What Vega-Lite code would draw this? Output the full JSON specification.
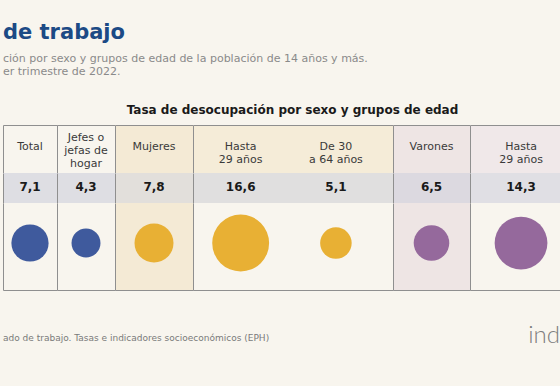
{
 "$schema": "https://vega.github.io/schema/vega-lite/v6.json",
 "background": "#f8f5ee",
 "padding": {"left": 3, "top": 22, "right": 0, "bottom": 0},
 "title": {"text": "\u00a0de trabajo", "subtitle": ["ción por sexo y grupos de edad de la población de 14 años y más.", "er trimestre de 2022."], "anchor": "start", "offset": 27, "font": "DejaVu Sans", "fontSize": 21, "fontWeight": "bold", "color": "#1c4a85", "subtitleFont": "DejaVu Sans", "subtitleFontSize": 11, "subtitleColor": "#8a8a8a", "subtitleLineHeight": 13, "subtitlePadding": 10},
 "datasets": {
  "tasas": [
   {"panel": "Total", "columna": "Total", "etiqueta": "Total", "tasa": 7.1, "grupo": "Total"},
   {"panel": "Jefes", "columna": "Jefes o jefas de hogar", "etiqueta": "Jefes o\njefas de\nhogar", "tasa": 4.3, "grupo": "Total"},
   {"panel": "Mujeres", "columna": "Mujeres", "etiqueta": "Mujeres", "tasa": 7.8, "grupo": "Mujeres"},
   {"panel": "MujeresEdad", "columna": "Mujeres hasta 29 años", "etiqueta": "Hasta\n29 años", "tasa": 16.6, "grupo": "Mujeres"},
   {"panel": "MujeresEdad", "columna": "Mujeres de 30 a 64 años", "etiqueta": "De 30\na 64 años", "tasa": 5.1, "grupo": "Mujeres"},
   {"panel": "Varones", "columna": "Varones", "etiqueta": "Varones", "tasa": 6.5, "grupo": "Varones"},
   {"panel": "VaronesEdad", "columna": "Varones hasta 29 años", "etiqueta": "Hasta\n29 años", "tasa": 14.3, "grupo": "Varones"}
  ],
  "pie": [
   {"tipo": "fuente", "texto": "ado de trabajo. Tasas e indicadores socioeconómicos (EPH)"},
   {"tipo": "logo", "texto": "ind"}
  ]
 },
 "spacing": 0,
 "vconcat": [
  {
   "title": {"text": "Tasa de desocupación por sexo y grupos de edad", "anchor": "middle", "dx": 11, "offset": 8, "font": "DejaVu Sans", "fontSize": 12, "fontWeight": "bold", "color": "#1a1a1a"},
   "spacing": 0,
   "vconcat": [
    {"spacing": 0, "bounds": "flush", "hconcat": [
     {"width": 54, "height": 48, "data": {"name": "tasas"}, "transform": [{"filter": "datum.panel === 'Total'"}],
      "mark": {"type": "text", "baseline": "top", "lineBreak": "\n", "font": "DejaVu Sans", "fontSize": 11, "lineHeight": 13, "color": "#3a3a3a"},
      "encoding": {"x": {"field": "columna", "type": "nominal", "sort": null, "axis": {"orient": "top", "title": null}},
       "y": {"field": "panel", "type": "nominal", "scale": {"align": 0.33}, "axis": {"orient": "left", "title": null}},
       "text": {"field": "etiqueta"}}},
     {"width": 58, "height": 48, "data": {"name": "tasas"}, "transform": [{"filter": "datum.panel === 'Jefes'"}],
      "mark": {"type": "text", "baseline": "top", "lineBreak": "\n", "font": "DejaVu Sans", "fontSize": 11, "lineHeight": 13, "color": "#3a3a3a"},
      "encoding": {"x": {"field": "columna", "type": "nominal", "sort": null, "axis": {"orient": "top", "title": null}},
       "y": {"field": "panel", "type": "nominal", "scale": {"align": 0.15}, "axis": {"orient": "left", "title": null}},
       "text": {"field": "etiqueta"}}},
     {"width": 78, "height": 48, "view": {"fill": "#f4ead5"}, "data": {"name": "tasas"}, "transform": [{"filter": "datum.panel === 'Mujeres'"}],
      "mark": {"type": "text", "baseline": "top", "lineBreak": "\n", "font": "DejaVu Sans", "fontSize": 11, "lineHeight": 13, "color": "#3a3a3a"},
      "encoding": {"x": {"field": "columna", "type": "nominal", "sort": null, "axis": {"orient": "top", "title": null}},
       "y": {"field": "panel", "type": "nominal", "scale": {"align": 0.33}, "axis": {"orient": "left", "title": null}},
       "text": {"field": "etiqueta"}}},
     {"width": 200, "height": 48, "view": {"fill": "#f5ecd8"}, "data": {"name": "tasas"}, "transform": [{"filter": "datum.panel === 'MujeresEdad'"}],
      "mark": {"type": "text", "baseline": "top", "lineBreak": "\n", "font": "DejaVu Sans", "fontSize": 11, "lineHeight": 13, "color": "#3a3a3a"},
      "encoding": {"x": {"field": "columna", "type": "nominal", "sort": null, "scale": {"padding": 0.55, "align": 0.455}, "axis": {"orient": "top", "title": null}},
       "y": {"field": "panel", "type": "nominal", "scale": {"align": 0.33}, "axis": {"orient": "left", "title": null}},
       "text": {"field": "etiqueta"}}},
     {"width": 77, "height": 48, "view": {"fill": "#eee5e4"}, "data": {"name": "tasas"}, "transform": [{"filter": "datum.panel === 'Varones'"}],
      "mark": {"type": "text", "baseline": "top", "lineBreak": "\n", "font": "DejaVu Sans", "fontSize": 11, "lineHeight": 13, "color": "#3a3a3a"},
      "encoding": {"x": {"field": "columna", "type": "nominal", "sort": null, "axis": {"orient": "top", "title": null}},
       "y": {"field": "panel", "type": "nominal", "scale": {"align": 0.33}, "axis": {"orient": "left", "title": null}},
       "text": {"field": "etiqueta"}}},
     {"width": 90, "height": 48, "view": {"fill": "#f0e8e9"}, "data": {"name": "tasas"}, "transform": [{"filter": "datum.panel === 'VaronesEdad'"}],
      "mark": {"type": "text", "baseline": "top", "lineBreak": "\n", "font": "DejaVu Sans", "fontSize": 11, "lineHeight": 13, "color": "#3a3a3a"},
      "encoding": {"x": {"field": "columna", "type": "nominal", "sort": null, "scale": {"align": 0.567}, "axis": {"orient": "top", "title": null}},
       "y": {"field": "panel", "type": "nominal", "scale": {"align": 0.33}, "axis": {"orient": "left", "title": null}},
       "text": {"field": "etiqueta"}}}
    ]},
    {"spacing": 0, "bounds": "flush", "hconcat": [
     {"width": 54, "height": 30, "view": {"fill": "#dedee3"}, "data": {"name": "tasas"}, "transform": [{"filter": "datum.panel === 'Total'"}],
      "mark": {"type": "text", "font": "DejaVu Sans", "fontSize": 12, "fontWeight": "bold", "color": "#1a1a1a"},
      "encoding": {"x": {"field": "columna", "type": "nominal", "sort": null, "axis": null},
       "y": {"field": "panel", "type": "nominal", "scale": {"align": 0.48}, "axis": {"orient": "left", "title": null}},
       "text": {"field": "tasa", "type": "quantitative", "format": ".1f"}}},
     {"width": 58, "height": 30, "view": {"fill": "#dedee3"}, "data": {"name": "tasas"}, "transform": [{"filter": "datum.panel === 'Jefes'"}],
      "mark": {"type": "text", "font": "DejaVu Sans", "fontSize": 12, "fontWeight": "bold", "color": "#1a1a1a"},
      "encoding": {"x": {"field": "columna", "type": "nominal", "sort": null, "axis": null},
       "y": {"field": "panel", "type": "nominal", "scale": {"align": 0.48}, "axis": {"orient": "left", "title": null}},
       "text": {"field": "tasa", "type": "quantitative", "format": ".1f"}}},
     {"width": 78, "height": 30, "view": {"fill": "#e2dfdb"}, "data": {"name": "tasas"}, "transform": [{"filter": "datum.panel === 'Mujeres'"}],
      "mark": {"type": "text", "font": "DejaVu Sans", "fontSize": 12, "fontWeight": "bold", "color": "#1a1a1a"},
      "encoding": {"x": {"field": "columna", "type": "nominal", "sort": null, "axis": null},
       "y": {"field": "panel", "type": "nominal", "scale": {"align": 0.48}, "axis": {"orient": "left", "title": null}},
       "text": {"field": "tasa", "type": "quantitative", "format": ".1f"}}},
     {"width": 200, "height": 30, "view": {"fill": "#e0dfdf"}, "data": {"name": "tasas"}, "transform": [{"filter": "datum.panel === 'MujeresEdad'"}],
      "mark": {"type": "text", "font": "DejaVu Sans", "fontSize": 12, "fontWeight": "bold", "color": "#1a1a1a"},
      "encoding": {"x": {"field": "columna", "type": "nominal", "sort": null, "scale": {"padding": 0.55, "align": 0.455}, "axis": null},
       "y": {"field": "panel", "type": "nominal", "scale": {"align": 0.48}, "axis": {"orient": "left", "title": null}},
       "text": {"field": "tasa", "type": "quantitative", "format": ".1f"}}},
     {"width": 77, "height": 30, "view": {"fill": "#dcd9e0"}, "data": {"name": "tasas"}, "transform": [{"filter": "datum.panel === 'Varones'"}],
      "mark": {"type": "text", "font": "DejaVu Sans", "fontSize": 12, "fontWeight": "bold", "color": "#1a1a1a"},
      "encoding": {"x": {"field": "columna", "type": "nominal", "sort": null, "axis": null},
       "y": {"field": "panel", "type": "nominal", "scale": {"align": 0.48}, "axis": {"orient": "left", "title": null}},
       "text": {"field": "tasa", "type": "quantitative", "format": ".1f"}}},
     {"width": 90, "height": 30, "view": {"fill": "#e0dfe4"}, "data": {"name": "tasas"}, "transform": [{"filter": "datum.panel === 'VaronesEdad'"}],
      "mark": {"type": "text", "font": "DejaVu Sans", "fontSize": 12, "fontWeight": "bold", "color": "#1a1a1a"},
      "encoding": {"x": {"field": "columna", "type": "nominal", "sort": null, "scale": {"align": 0.567}, "axis": null},
       "y": {"field": "panel", "type": "nominal", "scale": {"align": 0.48}, "axis": {"orient": "left", "title": null}},
       "text": {"field": "tasa", "type": "quantitative", "format": ".1f"}}}
    ]},
    {"spacing": 0, "bounds": "flush", "hconcat": [
     {"width": 54, "height": 87, "data": {"name": "tasas"}, "transform": [{"filter": "datum.panel === 'Total'"}],
      "mark": {"type": "circle", "opacity": 1},
      "encoding": {"x": {"field": "columna", "type": "nominal", "sort": null, "axis": {"orient": "bottom", "title": null}},
       "y": {"field": "panel", "type": "nominal", "scale": {"align": 0.46}, "axis": {"orient": "left", "title": null}},
       "size": {"field": "tasa", "type": "quantitative", "scale": {"domain": [0, 20], "range": [0, 3896]}, "legend": null},
       "color": {"field": "grupo", "type": "nominal", "scale": {"domain": ["Total", "Mujeres", "Varones"], "range": ["#3f5a9d", "#e8b034", "#95699c"]}, "legend": null}}},
     {"width": 58, "height": 87, "data": {"name": "tasas"}, "transform": [{"filter": "datum.panel === 'Jefes'"}],
      "mark": {"type": "circle", "opacity": 1},
      "encoding": {"x": {"field": "columna", "type": "nominal", "sort": null, "axis": {"orient": "bottom", "title": null}},
       "y": {"field": "panel", "type": "nominal", "scale": {"align": 0.46}, "axis": {"orient": "left", "title": null}},
       "size": {"field": "tasa", "type": "quantitative", "scale": {"domain": [0, 20], "range": [0, 3896]}, "legend": null},
       "color": {"field": "grupo", "type": "nominal", "scale": {"domain": ["Total", "Mujeres", "Varones"], "range": ["#3f5a9d", "#e8b034", "#95699c"]}, "legend": null}}},
     {"width": 78, "height": 87, "view": {"fill": "#f4ead5"}, "data": {"name": "tasas"}, "transform": [{"filter": "datum.panel === 'Mujeres'"}],
      "mark": {"type": "circle", "opacity": 1},
      "encoding": {"x": {"field": "columna", "type": "nominal", "sort": null, "axis": {"orient": "bottom", "title": null}},
       "y": {"field": "panel", "type": "nominal", "scale": {"align": 0.46}, "axis": {"orient": "left", "title": null}},
       "size": {"field": "tasa", "type": "quantitative", "scale": {"domain": [0, 20], "range": [0, 3896]}, "legend": null},
       "color": {"field": "grupo", "type": "nominal", "scale": {"domain": ["Total", "Mujeres", "Varones"], "range": ["#3f5a9d", "#e8b034", "#95699c"]}, "legend": null}}},
     {"width": 200, "height": 87, "data": {"name": "tasas"}, "transform": [{"filter": "datum.panel === 'MujeresEdad'"}],
      "mark": {"type": "circle", "opacity": 1},
      "encoding": {"x": {"field": "columna", "type": "nominal", "sort": null, "scale": {"padding": 0.55, "align": 0.455}, "axis": {"orient": "bottom", "title": null}},
       "y": {"field": "panel", "type": "nominal", "scale": {"align": 0.46}, "axis": {"orient": "left", "title": null}},
       "size": {"field": "tasa", "type": "quantitative", "scale": {"domain": [0, 20], "range": [0, 3896]}, "legend": null},
       "color": {"field": "grupo", "type": "nominal", "scale": {"domain": ["Total", "Mujeres", "Varones"], "range": ["#3f5a9d", "#e8b034", "#95699c"]}, "legend": null}}},
     {"width": 77, "height": 87, "view": {"fill": "#eee5e4"}, "data": {"name": "tasas"}, "transform": [{"filter": "datum.panel === 'Varones'"}],
      "mark": {"type": "circle", "opacity": 1},
      "encoding": {"x": {"field": "columna", "type": "nominal", "sort": null, "axis": {"orient": "bottom", "title": null}},
       "y": {"field": "panel", "type": "nominal", "scale": {"align": 0.46}, "axis": {"orient": "left", "title": null}},
       "size": {"field": "tasa", "type": "quantitative", "scale": {"domain": [0, 20], "range": [0, 3896]}, "legend": null},
       "color": {"field": "grupo", "type": "nominal", "scale": {"domain": ["Total", "Mujeres", "Varones"], "range": ["#3f5a9d", "#e8b034", "#95699c"]}, "legend": null}}},
     {"width": 90, "height": 87, "data": {"name": "tasas"}, "transform": [{"filter": "datum.panel === 'VaronesEdad'"}],
      "mark": {"type": "circle", "opacity": 1},
      "encoding": {"x": {"field": "columna", "type": "nominal", "sort": null, "scale": {"align": 0.567}, "axis": {"orient": "bottom", "title": null}},
       "y": {"field": "panel", "type": "nominal", "scale": {"align": 0.46}, "axis": {"orient": "left", "title": null}},
       "size": {"field": "tasa", "type": "quantitative", "scale": {"domain": [0, 20], "range": [0, 3896]}, "legend": null},
       "color": {"field": "grupo", "type": "nominal", "scale": {"domain": ["Total", "Mujeres", "Varones"], "range": ["#3f5a9d", "#e8b034", "#95699c"]}, "legend": null}}}
    ]}
   ]
  },
  {"width": 557, "height": 96, "data": {"name": "pie"},
   "layer": [
    {"transform": [{"filter": "datum.tipo === 'fuente'"}],
     "mark": {"type": "text", "align": "left", "font": "DejaVu Sans", "fontSize": 9, "color": "#7a7a7a"},
     "encoding": {"x": {"field": "tipo", "type": "nominal", "scale": {"domain": ["fuente", "logo"], "padding": 0}, "axis": null}, "text": {"field": "texto"}}},
    {"transform": [{"filter": "datum.tipo === 'logo'"}],
     "mark": {"type": "text", "align": "right", "baseline": "alphabetic", "dy": 5, "font": "Lato", "fontSize": 24, "fontWeight": 300, "color": "#7d7d7d"},
     "encoding": {"x": {"field": "tipo", "type": "nominal", "scale": {"domain": ["fuente", "logo"], "padding": 0}, "axis": null}, "text": {"field": "texto"}}}
   ]}
 ],
 "config": {
  "view": {"stroke": null},
  "locale": {"number": {"decimal": ",", "thousands": ".", "grouping": [3], "currency": ["$", ""]}},
  "axis": {"labels": false, "ticks": false, "grid": false, "domainColor": "#8f8f8f", "domainWidth": 1, "minExtent": 0}
 }
}
